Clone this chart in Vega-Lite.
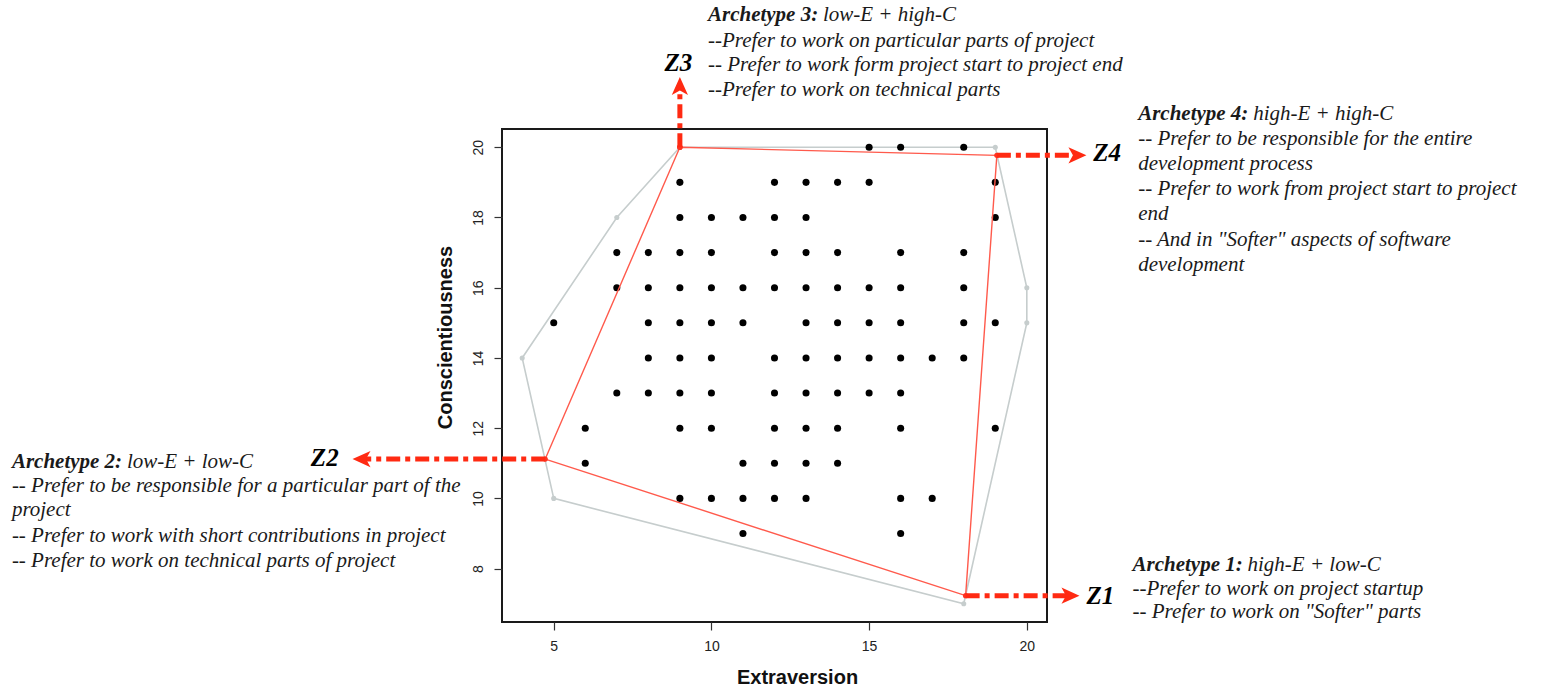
{
  "$schema": "https://vega.github.io/schema/vega-lite/v6.json",
  "width": 545,
  "height": 493,
  "autosize": {"type": "none"},
  "padding": {"left": 502, "top": 129, "right": 499, "bottom": 67},
  "background": "white",
  "config": {"view": {"stroke": "#1a1a1a", "strokeWidth": 2}, "font": "Liberation Sans"},
  "datasets": {
    "points": [
      {"x": 15, "y": 20}, {"x": 16, "y": 20}, {"x": 18, "y": 20},
      {"x": 9, "y": 19}, {"x": 12, "y": 19}, {"x": 13, "y": 19}, {"x": 14, "y": 19}, {"x": 15, "y": 19}, {"x": 19, "y": 19},
      {"x": 9, "y": 18}, {"x": 10, "y": 18}, {"x": 11, "y": 18}, {"x": 12, "y": 18}, {"x": 13, "y": 18}, {"x": 19, "y": 18},
      {"x": 7, "y": 17}, {"x": 8, "y": 17}, {"x": 9, "y": 17}, {"x": 10, "y": 17}, {"x": 12, "y": 17}, {"x": 13, "y": 17}, {"x": 14, "y": 17}, {"x": 16, "y": 17}, {"x": 18, "y": 17},
      {"x": 7, "y": 16}, {"x": 8, "y": 16}, {"x": 9, "y": 16}, {"x": 10, "y": 16}, {"x": 11, "y": 16}, {"x": 12, "y": 16}, {"x": 13, "y": 16}, {"x": 14, "y": 16}, {"x": 15, "y": 16}, {"x": 16, "y": 16}, {"x": 18, "y": 16},
      {"x": 5, "y": 15}, {"x": 8, "y": 15}, {"x": 9, "y": 15}, {"x": 10, "y": 15}, {"x": 11, "y": 15}, {"x": 13, "y": 15}, {"x": 14, "y": 15}, {"x": 15, "y": 15}, {"x": 16, "y": 15}, {"x": 18, "y": 15}, {"x": 19, "y": 15},
      {"x": 8, "y": 14}, {"x": 9, "y": 14}, {"x": 10, "y": 14}, {"x": 12, "y": 14}, {"x": 13, "y": 14}, {"x": 14, "y": 14}, {"x": 15, "y": 14}, {"x": 16, "y": 14}, {"x": 17, "y": 14}, {"x": 18, "y": 14},
      {"x": 7, "y": 13}, {"x": 8, "y": 13}, {"x": 9, "y": 13}, {"x": 10, "y": 13}, {"x": 12, "y": 13}, {"x": 13, "y": 13}, {"x": 14, "y": 13}, {"x": 15, "y": 13}, {"x": 16, "y": 13},
      {"x": 6, "y": 12}, {"x": 9, "y": 12}, {"x": 10, "y": 12}, {"x": 12, "y": 12}, {"x": 13, "y": 12}, {"x": 14, "y": 12}, {"x": 16, "y": 12}, {"x": 19, "y": 12},
      {"x": 6, "y": 11}, {"x": 11, "y": 11}, {"x": 12, "y": 11}, {"x": 13, "y": 11}, {"x": 14, "y": 11},
      {"x": 9, "y": 10}, {"x": 10, "y": 10}, {"x": 11, "y": 10}, {"x": 12, "y": 10}, {"x": 13, "y": 10}, {"x": 16, "y": 10}, {"x": 17, "y": 10},
      {"x": 11, "y": 9}, {"x": 16, "y": 9}
    ],
    "hull": [
      {"k": 0, "x": 9, "y": 20}, {"k": 1, "x": 19, "y": 20}, {"k": 2, "x": 20, "y": 16},
      {"k": 3, "x": 20, "y": 15}, {"k": 4, "x": 18, "y": 7}, {"k": 5, "x": 5, "y": 10},
      {"k": 6, "x": 4, "y": 14}, {"k": 7, "x": 7, "y": 18}, {"k": 8, "x": 9, "y": 20}
    ],
    "arch": [
      {"k": 0, "x": 9, "y": 20}, {"k": 1, "x": 19.05, "y": 19.77}, {"k": 2, "x": 18.06, "y": 7.23},
      {"k": 3, "x": 4.73, "y": 11.12}, {"k": 4, "x": 9, "y": 20}
    ],
    "arrows": [
      {"arrow": "Z3", "k": 0, "x": 9, "y": 20}, {"arrow": "Z3", "k": 1, "x": 9, "y": 21.66},
      {"arrow": "Z4", "k": 0, "x": 19.05, "y": 19.77}, {"arrow": "Z4", "k": 1, "x": 21.51, "y": 19.77},
      {"arrow": "Z1", "k": 0, "x": 18.06, "y": 7.23}, {"arrow": "Z1", "k": 1, "x": 21.29, "y": 7.23},
      {"arrow": "Z2", "k": 0, "x": 4.73, "y": 11.12}, {"arrow": "Z2", "k": 1, "x": -1.0, "y": 11.12}
    ],
    "heads": [
      {"arrow": "Z3", "dir": "up", "x": 9, "y": 22.0},
      {"arrow": "Z4", "dir": "right", "x": 21.89, "y": 19.77},
      {"arrow": "Z1", "dir": "right", "x": 21.67, "y": 7.23},
      {"arrow": "Z2", "dir": "left", "x": -1.38, "y": 11.12}
    ],
    "zlabels": [
      {"label": "Z3", "x": 8.95, "y": 22.4},
      {"label": "Z4", "x": 22.55, "y": 19.83},
      {"label": "Z1", "x": 22.33, "y": 7.23},
      {"label": "Z2", "x": -2.26, "y": 11.14}
    ],
    "titles": [
      {"x": 9.89, "y": 23.77, "head": "Archetype 3:", "rest": "low-E  + high-C"},
      {"x": 23.53, "y": 20.94, "head": "Archetype 4:", "rest": "high-E + high-C"},
      {"x": -12.18, "y": 11.04, "head": "Archetype 2:", "rest": "low-E + low-C"},
      {"x": 23.35, "y": 8.11, "head": "Archetype 1:", "rest": "high-E  + low-C"}
    ],
    "notes": [
      {"x": 9.89, "y": 23.03, "text": "--Prefer to work on particular parts of project"},
      {"x": 9.89, "y": 22.34, "text": "-- Prefer to work form project start to project end"},
      {"x": 9.89, "y": 21.63, "text": "--Prefer to work on technical parts"},
      {"x": 23.53, "y": 20.23, "text": "-- Prefer to be responsible for the entire"},
      {"x": 23.53, "y": 19.51, "text": "development process"},
      {"x": 23.53, "y": 18.8, "text": "-- Prefer to work from project start to project"},
      {"x": 23.53, "y": 18.09, "text": "end"},
      {"x": 23.53, "y": 17.37, "text": "-- And in \"Softer\" aspects of software"},
      {"x": 23.53, "y": 16.66, "text": "development"},
      {"x": -12.18, "y": 10.34, "text": "-- Prefer to be responsible for a particular part of the"},
      {"x": -12.18, "y": 9.66, "text": "project"},
      {"x": -12.18, "y": 8.94, "text": "-- Prefer to work with short contributions in project"},
      {"x": -12.18, "y": 8.23, "text": "-- Prefer to work on technical parts of project"},
      {"x": 23.35, "y": 7.43, "text": "--Prefer to work on project startup"},
      {"x": 23.35, "y": 6.77, "text": "-- Prefer to work on \"Softer\" parts"}
    ]
  },
  "encoding": {
    "x": {
      "field": "x", "type": "quantitative",
      "scale": {"domain": [3.36, 20.64], "nice": false, "zero": false},
      "axis": {
        "values": [5, 10, 15, 20], "domain": false, "grid": false,
        "tickSize": 8, "tickColor": "#333", "tickWidth": 1.2,
        "labelFont": "Liberation Sans", "labelFontSize": 14, "labelColor": "#222", "labelPadding": 9,
        "title": "Extraversion", "titleFont": "Liberation Sans", "titleFontSize": 20, "titleFontWeight": "bold",
        "titleColor": "#111", "titleX": 295, "titleY": 55, "titleBaseline": "middle"
      }
    },
    "y": {
      "field": "y", "type": "quantitative",
      "scale": {"domain": [6.48, 20.52], "nice": false, "zero": false},
      "axis": {
        "values": [8, 10, 12, 14, 16, 18, 20], "domain": false, "grid": false,
        "tickSize": 8, "tickColor": "#333", "tickWidth": 1.2,
        "labelAngle": 270, "labelAlign": "center", "labelBaseline": "bottom",
        "labelFont": "Liberation Sans", "labelFontSize": 14, "labelColor": "#222", "labelPadding": 9,
        "title": "Conscientiousness", "titleFont": "Liberation Sans", "titleFontSize": 20, "titleFontWeight": "bold",
        "titleColor": "#111", "titleAngle": 270, "titleX": -57, "titleY": 208, "titleBaseline": "middle", "titleAlign": "center"
      }
    }
  },
  "layer": [
    {
      "data": {"name": "hull"},
      "mark": {"type": "line", "color": "#c6cdcd", "strokeWidth": 1.6},
      "encoding": {"order": {"field": "k", "type": "quantitative"}}
    },
    {
      "data": {"name": "hull"},
      "mark": {"type": "circle", "color": "#c6cdcd", "size": 26, "opacity": 1}
    },
    {
      "data": {"name": "points"},
      "mark": {"type": "circle", "color": "#000000", "size": 50, "opacity": 1}
    },
    {
      "data": {"name": "arch"},
      "mark": {"type": "line", "color": "#ff5a4c", "strokeWidth": 1.4},
      "encoding": {"order": {"field": "k", "type": "quantitative"}}
    },
    {
      "data": {"name": "arch"},
      "mark": {"type": "circle", "color": "#ff3322", "size": 28, "opacity": 1}
    },
    {
      "data": {"name": "arrows"},
      "mark": {"type": "line", "color": "#ff2a12", "strokeWidth": 5, "strokeDash": [14, 5, 5, 5], "strokeCap": "butt"},
      "encoding": {"detail": {"field": "arrow", "type": "nominal"}, "order": {"field": "k", "type": "quantitative"}}
    },
    {
      "data": {"name": "heads"},
      "transform": [{"filter": "datum.dir === 'right'"}],
      "mark": {"type": "point", "shape": "M0,0L-2,-0.9L-1.5,0L-2,0.9Z", "filled": true, "color": "#ff2a12", "opacity": 1, "size": 324, "angle": 0}
    },
    {
      "data": {"name": "heads"},
      "transform": [{"filter": "datum.dir === 'up'"}],
      "mark": {"type": "point", "shape": "M0,0L-2,-0.9L-1.5,0L-2,0.9Z", "filled": true, "color": "#ff2a12", "opacity": 1, "size": 324, "angle": 270}
    },
    {
      "data": {"name": "heads"},
      "transform": [{"filter": "datum.dir === 'left'"}],
      "mark": {"type": "point", "shape": "M0,0L-2,-0.9L-1.5,0L-2,0.9Z", "filled": true, "color": "#ff2a12", "opacity": 1, "size": 324, "angle": 180}
    },
    {
      "data": {"name": "zlabels"},
      "mark": {"type": "text", "font": "Liberation Serif", "fontSize": 25, "fontWeight": "bold", "fontStyle": "italic", "color": "#000", "align": "center", "baseline": "middle"},
      "encoding": {"text": {"field": "label", "type": "nominal"}}
    },
    {
      "data": {"name": "titles"},
      "mark": {"type": "text", "font": "Liberation Serif", "fontSize": 21, "fontWeight": "bold", "fontStyle": "italic", "color": "#1a1a1a", "align": "left", "baseline": "middle"},
      "encoding": {"text": {"field": "head", "type": "nominal"}}
    },
    {
      "data": {"name": "titles"},
      "mark": {"type": "text", "font": "Liberation Serif", "fontSize": 21, "fontStyle": "italic", "color": "#1a1a1a", "align": "left", "baseline": "middle", "dx": 115},
      "encoding": {"text": {"field": "rest", "type": "nominal"}}
    },
    {
      "data": {"name": "notes"},
      "mark": {"type": "text", "font": "Liberation Serif", "fontSize": 21, "fontStyle": "italic", "color": "#1a1a1a", "align": "left", "baseline": "middle"},
      "encoding": {"text": {"field": "text", "type": "nominal"}}
    }
  ]
}
